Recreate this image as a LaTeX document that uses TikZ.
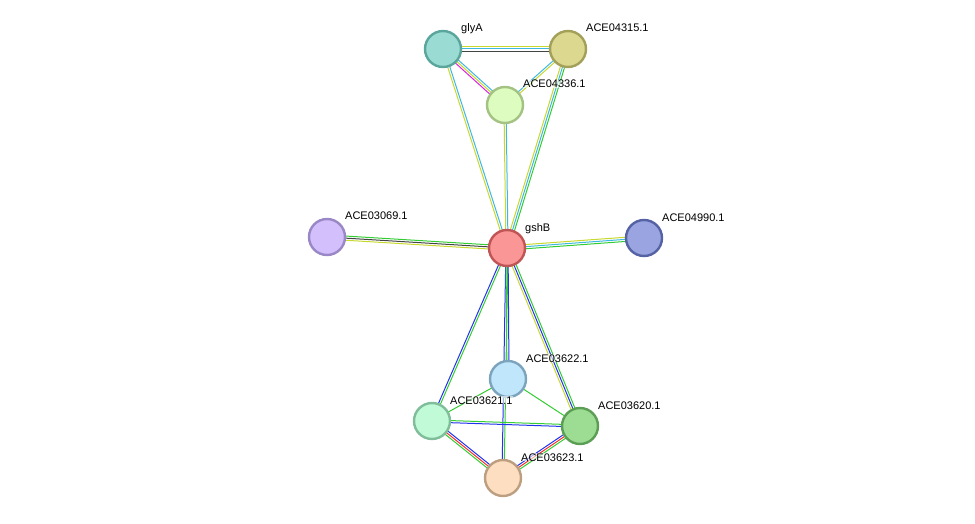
\documentclass[tikz,border=0pt]{standalone}
\usepackage{fontspec}
\setmainfont{Liberation Sans}
\usetikzlibrary{calc}
\definecolor{ctm}{HTML}{C8D82E}
\definecolor{cdb}{HTML}{3FB8E0}
\definecolor{cex}{HTML}{DD22DD}
\definecolor{cco}{HTML}{444444}
\definecolor{cnb}{HTML}{33CC33}
\definecolor{coc}{HTML}{2233EE}
\definecolor{cfu}{HTML}{EE3333}
\definecolor{fglyA}{HTML}{9ADCD4}\definecolor{bglyA}{HTML}{5AA69C}
\definecolor{f4315}{HTML}{DDD88F}\definecolor{b4315}{HTML}{A3A05A}
\definecolor{f4336}{HTML}{DDFCBF}\definecolor{b4336}{HTML}{A4C283}
\definecolor{fgshB}{HTML}{FB9696}\definecolor{bgshB}{HTML}{C05555}
\definecolor{f3069}{HTML}{D2BFFC}\definecolor{b3069}{HTML}{9A87C6}
\definecolor{f4990}{HTML}{9AA4E0}\definecolor{b4990}{HTML}{5562A3}
\definecolor{f3622}{HTML}{BFE6FB}\definecolor{b3622}{HTML}{7CA4BC}
\definecolor{f3621}{HTML}{C0FAD7}\definecolor{b3621}{HTML}{80BE9B}
\definecolor{f3620}{HTML}{9CDC93}\definecolor{b3620}{HTML}{5C9E55}
\definecolor{f3623}{HTML}{FEDEC0}\definecolor{b3623}{HTML}{BC9E80}
\newcommand\medge[3]{%
  \foreach \c [count=\i from 0] in {#3} {
    \pgfmathsetmacro\off{(\i-0.5*(\numcolors-1))*2.1}
    \draw[\c, line width=1pt] ($(#1)!\off pt!90:(#2)$) -- ($(#2)!\off pt!-90:(#1)$);
  }}
\newcommand\ed[3]{\def\numcolors{#3}\medge{#1}{#2}}
\tikzset{prot/.style={circle, minimum size=36pt, inner sep=0pt, line width=2.4pt, fill=f#1, draw=b#1},
  lab/.style={font=\fontsize{11}{13}\selectfont, anchor=base west, inner sep=0pt, fill=white, fill opacity=0.6, text opacity=1}}
\begin{document}
\begin{tikzpicture}[x=1pt,y=-1pt]
\useasboundingbox (0,0) rectangle (975,524);
\coordinate (glyA) at (443,49);
\coordinate (c4315) at (568,49);
\coordinate (c4336) at (505,105);
\coordinate (gshB) at (507,248);
\coordinate (c3069) at (327,237);
\coordinate (c4990) at (644,238);
\coordinate (c3622) at (508,379);
\coordinate (c3621) at (432,421);
\coordinate (c3620) at (580,426);
\coordinate (c3623) at (503,478);
\ed{glyA}{c4315}{3}{cco,cdb,ctm}
\ed{glyA}{c4336}{3}{cex,ctm,cdb}
\ed{glyA}{gshB}{2}{ctm,cdb}
\ed{c4315}{c4336}{2}{cdb,ctm}
\ed{c4315}{gshB}{3}{ctm,cdb,cnb}
\ed{c4336}{gshB}{2}{ctm,cdb}
\ed{c3069}{gshB}{3}{ctm,cco,cnb}
\ed{gshB}{c4990}{3}{cnb,cdb,ctm}
\ed{gshB}{c3621}{2}{coc,cnb}
\ed{gshB}{c3623}{2}{coc,cnb}
\ed{gshB}{c3622}{2}{cnb,coc}
\ed{gshB}{c3620}{3}{ctm,coc,cnb}
\ed{c3621}{c3622}{1}{cnb}
\ed{c3622}{c3620}{1}{cnb}
\ed{c3621}{c3620}{2}{coc,cnb}
\ed{c3621}{c3623}{3}{cnb,cfu,coc}
\ed{c3620}{c3623}{3}{coc,cfu,cnb}
\node[prot=glyA] (nglyA) at (glyA) {};
\node[prot=4315] (n4315) at (c4315) {};
\node[prot=4336] (n4336) at (c4336) {};
\node[prot=gshB] (ngshB) at (gshB) {};
\node[prot=3069] (n3069) at (c3069) {};
\node[prot=4990] (n4990) at (c4990) {};
\node[prot=3622] (n3622) at (c3622) {};
\node[prot=3621] (n3621) at (c3621) {};
\node[prot=3620] (n3620) at (c3620) {};
\node[prot=3623] (n3623) at (c3623) {};
\node[lab] (lglyA) at (461,32) {glyA};
\node[lab] (l4315) at (586,32) {ACE04315.1};
\node[lab] (l4336) at (523,88) {ACE04336.1};
\node[lab] (lgshB) at (525,231) {gshB};
\node[lab] (l3069) at (345,219) {ACE03069.1};
\node[lab] (l4990) at (662,221) {ACE04990.1};
\node[lab] (l3622) at (526,362) {ACE03622.1};
\node[lab] (l3621) at (450,404) {ACE03621.1};
\node[lab] (l3620) at (598,409) {ACE03620.1};
\node[lab] (l3623) at (521,461) {ACE03623.1};
\end{tikzpicture}
\end{document}
